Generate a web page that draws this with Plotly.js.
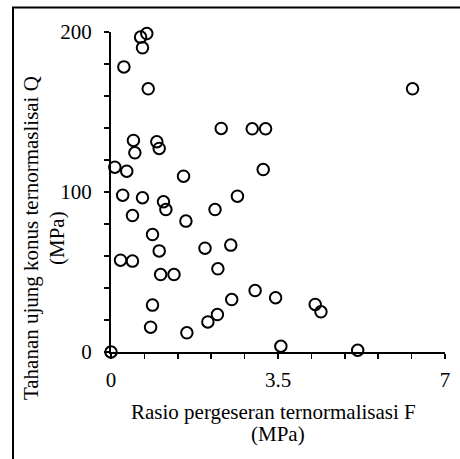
<!DOCTYPE html>
<html>
<head>
<meta charset="utf-8">
<script src="https://cdn.plot.ly/plotly-3.0.1.min.js"></script>
<style>
  html, body { margin: 0; padding: 0; background: #fff; }
  #chart { width: 460px; height: 459px; }
</style>
</head>
<body>
<div id="chart"></div>
<script>
// Normalised friction ratio F (MPa)
const F = [0.75, 0.62, 0.66, 0.27, 0.78, 6.32, 2.31, 2.96, 3.24, 0.47,
           0.96, 1.01, 0.50, 0.08, 0.33, 3.19, 1.52, 0.245, 0.66, 2.65,
           1.10, 1.15, 2.18, 0.45, 1.57, 0.87, 1.97, 2.51, 1.01, 0.20,
           0.45, 2.24, 1.04, 1.32, 3.02, 3.45, 2.53, 0.87, 4.28, 4.40,
           2.23, 2.03, 0.83, 1.59, 3.56, 5.17, 0.0];
// Normalised cone tip resistance Q (MPa)
const Q = [199, 196.8, 190.1, 178.2, 164.5, 164.5, 139.7, 139.5, 139.5, 132.2,
           131.4, 127.2, 124.5, 115.5, 113, 114, 109.9, 98, 96.4, 97.4,
           93.9, 89, 89, 85.3, 81.8, 73.4, 64.9, 66.8, 63.2, 57.4,
           56.8, 52, 48.4, 48.4, 38.4, 33.9, 32.8, 29.3, 29.7, 25.1,
           23.4, 18.8, 15.5, 12, 3.6, 1.1, 0];

const xTickVals = [0, 0.7, 1.4, 2.1, 2.8, 3.5, 4.2, 4.9, 5.6, 6.3, 7];
const xTickText = ['0', '', '', '', '', '3.5', '', '', '', '', '7'];
const yTickVals = [0, 20, 40, 60, 80, 100, 120, 140, 160, 180, 200];
const yTickText = ['0', '', '', '', '', '100', '', '', '', '', '200'];

const xTitle1 = 'Rasio pergeseran ternormalisasi F';
const xTitle2 = '(MPa)';
const yTitle1 = 'Tahanan ujung konus ternormaslisai Q';
const yTitle2 = '(MPa)';

const FONT = 'Liberation Serif, Times New Roman, serif';

const trace = {
  x: F, y: Q,
  type: 'scatter', mode: 'markers',
  cliponaxis: false,
  marker: { symbol: 'circle-open', size: 11.5, color: '#000', line: { width: 2, color: '#000' } },
  hoverinfo: 'x+y'
};

const layout = {
  width: 460, height: 459,
  margin: { l: 111, r: 15, t: 32, b: 107 },
  paper_bgcolor: '#fff', plot_bgcolor: '#fff',
  showlegend: false,
  font: { family: FONT, size: 20, color: '#000' },
  xaxis: {
    range: [0, 7], tickmode: 'array', tickvals: xTickVals, ticktext: xTickText,
    showgrid: false, zeroline: false, showline: true, linecolor: '#000', linewidth: 2,
    ticks: 'outside', ticklen: 5, tickwidth: 1.5, tickcolor: '#000',
    ticklabelstandoff: 3,
    tickfont: { family: FONT, size: 21, color: '#000' }
  },
  yaxis: {
    range: [0, 200], tickmode: 'array', tickvals: yTickVals, ticktext: yTickText,
    showgrid: false, zeroline: false, showline: true, linecolor: '#000', linewidth: 2,
    ticks: 'outside', ticklen: 5, tickwidth: 1.5, tickcolor: '#000',
    ticklabelstandoff: 8,
    tickfont: { family: FONT, size: 21, color: '#000' }
  },
  annotations: [
    { text: xTitle1, xref: 'paper', yref: 'paper', x: 0.488, y: -0.188, xanchor: 'center', yanchor: 'middle', showarrow: false, font: { family: FONT, size: 21, color: '#000' } },
    { text: xTitle2, xref: 'paper', yref: 'paper', x: 0.5, y: -0.256, xanchor: 'center', yanchor: 'middle', showarrow: false, font: { family: FONT, size: 21, color: '#000' } },
    { text: yTitle1, xref: 'paper', yref: 'paper', x: -0.2395, y: 0.356, xanchor: 'center', yanchor: 'middle', textangle: -90, showarrow: false, font: { family: FONT, size: 21, color: '#000' } },
    { text: yTitle2, xref: 'paper', yref: 'paper', x: -0.162, y: 0.356, xanchor: 'center', yanchor: 'middle', textangle: -90, showarrow: false, font: { family: FONT, size: 21, color: '#000' } }
  ],
  shapes: [
    { type: 'line', xref: 'paper', yref: 'paper', x0: -0.2934, x1: -0.2934, y0: 1.0766, y1: -0.4, line: { color: '#000', width: 2 } },
    { type: 'line', xref: 'paper', yref: 'paper', x0: -0.2964, x1: 1.1, y0: 1.0766, y1: 1.0766, line: { color: '#000', width: 2 } }
  ]
};

Plotly.newPlot('chart', [trace], layout, { displayModeBar: false, staticPlot: true });
</script>
</body>
</html>
